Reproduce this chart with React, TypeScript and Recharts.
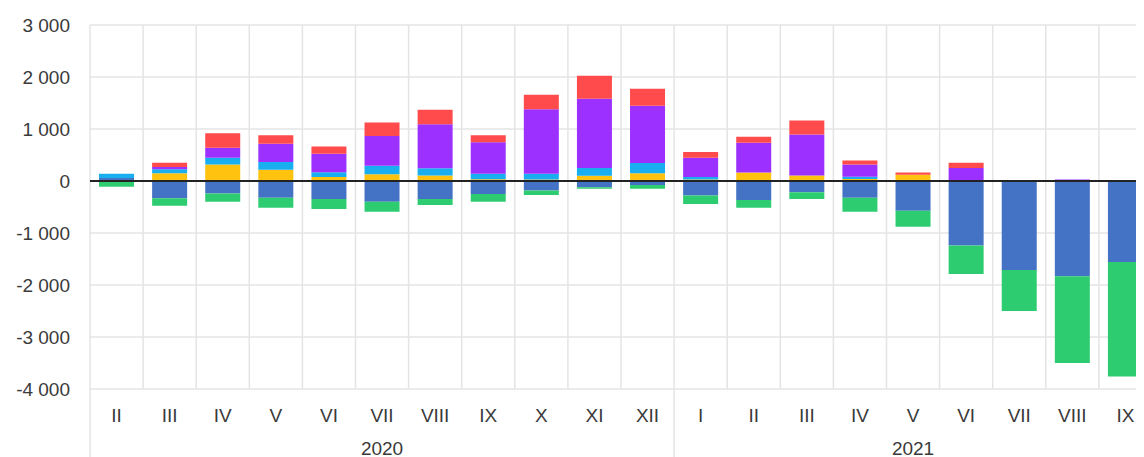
import { BarChart, Bar, XAxis, YAxis, CartesianGrid, ReferenceLine } from 'recharts';

// categories (two-level axis: month / year)
const months = ['II', 'III', 'IV', 'V', 'VI', 'VII', 'VIII', 'IX', 'X', 'XI', 'XII', 'I', 'II', 'III', 'IV', 'V', 'VI', 'VII', 'VIII', 'IX'];
const years = ['2020', '2020', '2020', '2020', '2020', '2020', '2020', '2020', '2020', '2020', '2020', '2021', '2021', '2021', '2021', '2021', '2021', '2021', '2021', '2021'];

// series values
const blueValues = [60, -330, -240, -320, -345, -400, -345, -250, -185, -120, -75, -280, -365, -215, -320, -570, -1240, -1710, -1830, -1560];
const greenValues = [-110, -145, -160, -195, -195, -190, -115, -150, -85, -30, -75, -160, -150, -130, -270, -310, -550, -790, -1670, -2200];
const yellowValues = [0, 150, 315, 215, 75, 130, 105, 35, 30, 100, 150, 30, 165, 105, 40, 120, 0, 0, 0, 0];
const cyanValues = [80, 75, 130, 150, 95, 165, 140, 105, 110, 150, 195, 45, 0, 0, 40, 0, 0, 0, 0, 0];
const purpleValues = [0, 45, 195, 350, 355, 570, 845, 605, 1240, 1330, 1100, 370, 570, 790, 235, 0, 250, 0, 30, 0];
const redValues = [0, 80, 280, 165, 140, 260, 280, 135, 280, 445, 330, 115, 115, 270, 80, 45, 100, 0, 0, 0];

const yTicks = [-4000, -3000, -2000, -1000, 0, 1000, 2000, 3000];

const data = months.map((m, i) => ({
  key: `${years[i]}-${m}-${i}`,
  month: m,
  year: years[i],
  blue: blueValues[i],
  green: greenValues[i],
  yellow: yellowValues[i],
  cyan: cyanValues[i],
  purple: purpleValues[i],
  red: redValues[i],
}));

const series = [
  { key: 'blue', color: '#4472c4' },
  { key: 'green', color: '#2ecc71' },
  { key: 'yellow', color: '#ffc20e' },
  { key: 'cyan', color: '#18aef0' },
  { key: 'purple', color: '#9b30ff' },
  { key: 'red', color: '#ff4b4b' },
];

const CHART_W = 1144;
const CHART_H = 449;
const Y_AXIS_W = 82;
const X_AXIS_H = 68;
const MARGIN = { top: 17, right: 0, bottom: 0, left: 0 };
const band = (CHART_W - Y_AXIS_W - MARGIN.left - MARGIN.right) / months.length;

const FONT = '"Liberation Sans", Arial, sans-serif';
const TEXT_COLOR = '#3a3a3a';
const GRID_COLOR = '#e4e4e4';
const FONT_SIZE = 19;

const fmt = (v: number) => String(v).replace(/\B(?=(\d{3})+(?!\d))/g, ' ');

const MonthTick = (props: any) => {
  const { x, y, index } = props;
  const year = years[index];
  const first = years.indexOf(year);
  const isFirst = first === index;
  const count = years.filter((yv) => yv === year).length;
  return (
    <g>
      {isFirst && (
        <line x1={x - band / 2} x2={x - band / 2} y1={y} y2={y + X_AXIS_H} stroke={GRID_COLOR} strokeWidth={1.5} />
      )}
      <text x={x} y={y + 26} textAnchor="middle" dominantBaseline="central" fill={TEXT_COLOR} fontSize={FONT_SIZE} fontFamily={FONT}>
        {months[index]}
      </text>
      {isFirst && (
        <text
          x={x + ((count - 1) / 2) * band}
          y={y + 59}
          textAnchor="middle"
          dominantBaseline="central"
          fill={TEXT_COLOR}
          fontSize={FONT_SIZE}
          fontFamily={FONT}
        >
          {year}
        </text>
      )}
    </g>
  );
};

export default function App() {
  return (
    <div style={{ width: 1136, height: CHART_H, overflow: 'hidden' }}>
      <style>{'body{overflow:hidden}'}</style>
      <BarChart
        width={CHART_W}
        height={CHART_H}
        data={data}
        margin={MARGIN}
        stackOffset="sign"
        barCategoryGap="17%"
      >
        <CartesianGrid
          stroke={GRID_COLOR}
          strokeWidth={1.5}
          verticalCoordinatesGenerator={({ offset }: any) =>
            Array.from({ length: months.length + 1 }, (_, i) => offset.left + i * band)
          }
        />
        <XAxis
          dataKey="key"
          interval={0}
          height={X_AXIS_H}
          axisLine={false}
          tickLine={false}
          tickSize={0}
          tickMargin={0}
          tick={<MonthTick />}
        />
        <YAxis
          width={Y_AXIS_W}
          domain={[-4000, 3000]}
          ticks={yTicks}
          axisLine={false}
          tickLine={false}
          tickMargin={14}
          tickFormatter={fmt}
          tick={{ fill: TEXT_COLOR, fontSize: FONT_SIZE, fontFamily: FONT }}
        />
        {series.map((s) => (
          <Bar key={s.key} dataKey={s.key} stackId="a" fill={s.color} isAnimationActive={false} />
        ))}
        <ReferenceLine y={0} stroke="#222" strokeWidth={2} />
      </BarChart>
    </div>
  );
}
